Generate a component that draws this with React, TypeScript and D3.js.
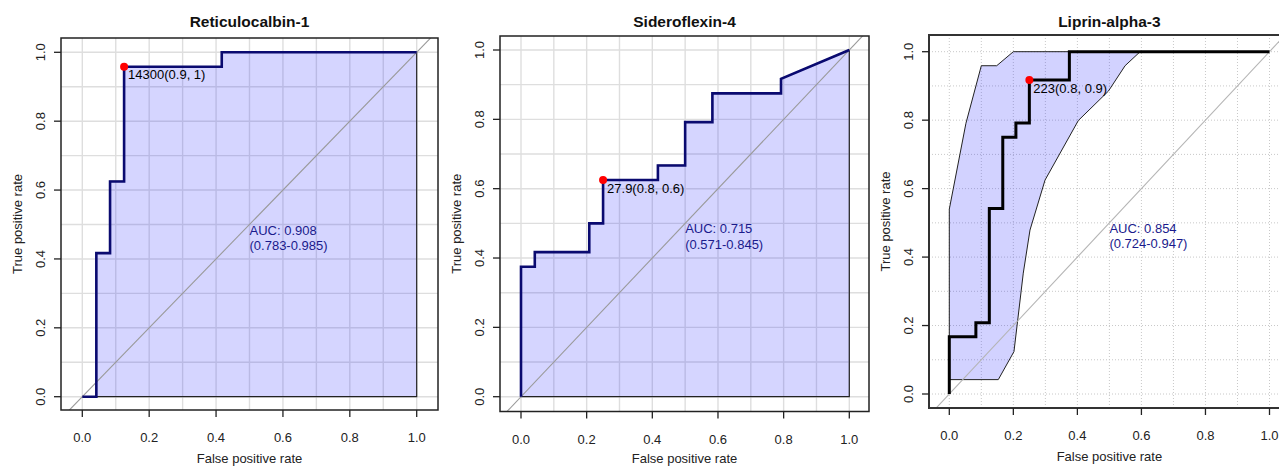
import React from "react";
import * as d3 from "d3";

const titles = ["Reticulocalbin-1", "Sideroflexin-4", "Liprin-alpha-3"];

const fpr1 = [0, 0.042, 0.042, 0.083, 0.083, 0.125, 0.125, 0.417, 0.417, 1];
const tpr1 = [0, 0, 0.417, 0.417, 0.625, 0.625, 0.958, 0.958, 1, 1];

const fpr2 = [0, 0, 0.042, 0.042, 0.208, 0.208, 0.25, 0.25, 0.417, 0.417, 0.5, 0.5, 0.583, 0.583, 0.792, 0.792, 1];
const tpr2 = [0, 0.375, 0.375, 0.417, 0.417, 0.5, 0.5, 0.625, 0.625, 0.667, 0.667, 0.792, 0.792, 0.875, 0.875, 0.917, 1];

const fpr3 = [0, 0, 0.083, 0.083, 0.125, 0.125, 0.167, 0.167, 0.208, 0.208, 0.25, 0.25, 0.375, 0.375, 1];
const tpr3 = [0, 0.167, 0.167, 0.208, 0.208, 0.542, 0.542, 0.75, 0.75, 0.792, 0.792, 0.917, 0.917, 1, 1];

const bandFpr3 = [0, 0, 0.052, 0.1, 0.148, 0.2, 0.596, 0.549, 0.497, 0.403, 0.299, 0.252, 0.231, 0.202, 0.153];
const bandTpr3 = [0.042, 0.54, 0.791, 0.959, 0.959, 1, 1, 0.959, 0.885, 0.799, 0.625, 0.479, 0.353, 0.124, 0.042];

const bestFpr = [0.125, 0.25, 0.25];
const bestTpr = [0.958, 0.625, 0.917];
const bestLabels = ["14300(0.9, 1)", "27.9(0.8, 0.6)", "223(0.8, 0.9)"];
const aucLabels = ["AUC: 0.908", "AUC: 0.715", "AUC: 0.854"];
const ciLabels = ["(0.783-0.985)", "(0.571-0.845)", "(0.724-0.947)"];

const axisTicks = [0, 0.2, 0.4, 0.6, 0.8, 1.0];
const tickLabels = ["0.0", "0.2", "0.4", "0.6", "0.8", "1.0"];
const gridVals = [0, 0.1, 0.2, 0.3, 0.4, 0.5, 0.6, 0.7, 0.8, 0.9, 1.0];

const xLabel = "False positive rate";
const yLabel = "True positive rate";

const FONT = "'Liberation Sans', Arial, Helvetica, sans-serif";

type Layout = {
  frame: [number, number, number, number];
  xr: [number, number];
  yr: [number, number];
};

const layouts: Layout[] = [
  { frame: [61, 38, 438, 410], xr: [82.3, 416.7], yr: [396.7, 52.3] },
  { frame: [500, 36, 869, 411.5], xr: [521, 849.3], yr: [396.7, 50] },
  { frame: [929, 35, 1300, 408], xr: [949.3, 1269.5], yr: [394, 51.7] },
];

function Panel({ idx, fpr, tpr, band }: { idx: number; fpr: number[]; tpr: number[]; band?: { f: number[]; t: number[] } }) {
  const L = layouts[idx];
  const [fl, ft, fr, fb] = L.frame;
  const x = d3.scaleLinear().domain([0, 1]).range(L.xr);
  const y = d3.scaleLinear().domain([0, 1]).range(L.yr);
  const pts: [number, number][] = fpr.map((f, i) => [f, tpr[i]]);
  const line = d3.line<[number, number]>().x((d) => x(d[0])).y((d) => y(d[1]));
  const clipId = `clip${idx}`;
  const isBand = !!band;
  const areaPts: [number, number][] = [...pts, [1, 0], [0, 0]];
  const bandPts: [number, number][] = band ? band.f.map((f, i) => [f, band.t[i]]) : [];
  const cx = (fl + fr) / 2;
  const cy = (ft + fb) / 2;
  const labelCx = isBand ? x(0.5) : cx;
  const curveColor = isBand ? "#000000" : "#0a0a70";
  const textColor = "#1a1a8c";
  const gridColor = isBand ? "#c8c8c8" : "#dedede";
  return (
    <g>
      <defs>
        <clipPath id={clipId}>
          <rect x={fl} y={ft} width={fr - fl} height={fb - ft} />
        </clipPath>
      </defs>
      <g clipPath={`url(#${clipId})`}>
        {gridVals.map((g) => (
          <g key={g}>
            <line x1={x(g)} x2={x(g)} y1={ft} y2={fb} stroke={gridColor} strokeWidth={isBand ? 1 : 1.4} strokeDasharray={isBand ? "1,2" : undefined} />
            <line x1={fl} x2={fr} y1={y(g)} y2={y(g)} stroke={gridColor} strokeWidth={isBand ? 1 : 1.4} strokeDasharray={isBand ? "1,2" : undefined} />
          </g>
        ))}
        {!isBand && (
          <path d={line(areaPts) + "Z"} fill="#1e1eff" fillOpacity={0.19} stroke="#222" strokeWidth={1.2} />
        )}
        {isBand && (
          <path d={line(bandPts) + "Z"} fill="#1e1eff" fillOpacity={0.2} stroke="#222" strokeWidth={1} />
        )}
        <line x1={x(-0.3)} y1={y(-0.3)} x2={x(1.3)} y2={y(1.3)} stroke={isBand ? "#b4b4b4" : "#9a9a9a"} strokeWidth={1.1} />
        <path d={line(pts) ?? ""} fill="none" stroke={curveColor} strokeWidth={isBand ? 3 : 2.6} strokeLinejoin="miter" />
        <circle cx={x(bestFpr[idx])} cy={y(bestTpr[idx])} r={4} fill="#ff0000" />
        <text x={x(bestFpr[idx]) + 4} y={y(bestTpr[idx]) + 12.5} fontSize={13} fill="#000">{bestLabels[idx]}</text>
        <text x={x(0.5)} y={y(0.5) + 10} fontSize={13} fill={textColor}>{aucLabels[idx]}</text>
        <text x={x(0.5)} y={y(0.5) + 25.5} fontSize={13} fill={textColor}>{ciLabels[idx]}</text>
      </g>
      <rect x={fl} y={ft} width={fr - fl} height={fb - ft} fill="none" stroke={isBand ? "#333" : "#222"} strokeWidth={isBand ? 2 : 1.5} />
      {axisTicks.map((t, i) => (
        <g key={"x" + t}>
          <line x1={x(t)} x2={x(t)} y1={fb} y2={fb + 7} stroke="#222" strokeWidth={1.3} />
          <text x={x(t)} y={fb + 32} fontSize={13} textAnchor="middle" fill="#222">{tickLabels[i]}</text>
        </g>
      ))}
      {axisTicks.map((t, i) => (
        <g key={"y" + t}>
          <line x1={fl} x2={fl - 7} y1={y(t)} y2={y(t)} stroke="#222" strokeWidth={1.3} />
          <text transform={`translate(${fl - 16},${y(t)}) rotate(-90)`} fontSize={13} textAnchor="middle" fill="#222">{tickLabels[i]}</text>
        </g>
      ))}
      <text x={labelCx} y={Math.min(fb + 53, 462.5)} fontSize={13} textAnchor="middle" fill="#222">{xLabel}</text>
      <text transform={`translate(${fl - 39},${cy}) rotate(-90)`} fontSize={13} textAnchor="middle" fill="#222">{yLabel}</text>
      <text x={labelCx} y={27} fontSize={15.5} fontWeight="bold" textAnchor="middle" fill="#111">{titles[idx]}</text>
    </g>
  );
}

export default function App() {
  return (
    <svg width={1279} height={467} style={{ position: "absolute", left: 0, top: 0, background: "#fff", fontFamily: FONT }}>
      <rect x={0} y={0} width={1279} height={467} fill="#fff" />
      <Panel idx={0} fpr={fpr1} tpr={tpr1} />
      <Panel idx={1} fpr={fpr2} tpr={tpr2} />
      <Panel idx={2} fpr={fpr3} tpr={tpr3} band={{ f: bandFpr3, t: bandTpr3 }} />
    </svg>
  );
}
